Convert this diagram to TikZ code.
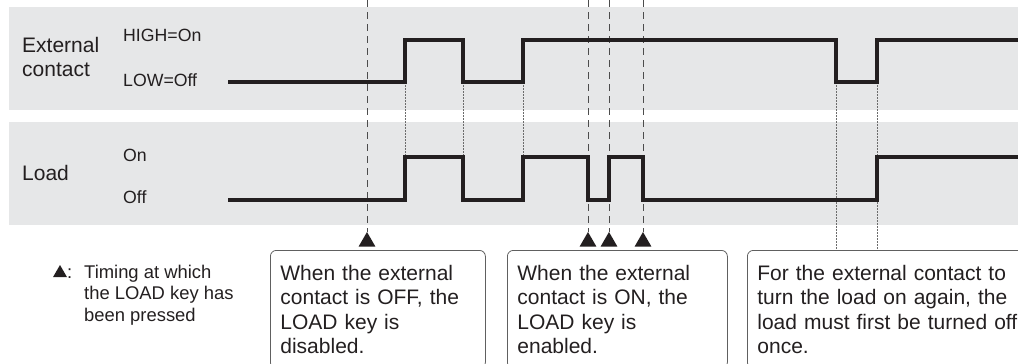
\documentclass[tikz,border=0pt]{standalone}
\usepackage{fontspec}
\setmainfont{Liberation Sans}
\usetikzlibrary{positioning, shapes.geometric}
\definecolor{bandgray}{HTML}{E6E7E8}
\definecolor{sigblack}{HTML}{231F20}

\begin{document}
\begin{tikzpicture}[
  x=1pt, y=-1pt,
  band/.style={fill=bandgray, draw=none},
  sig/.style={draw=sigblack, line width=4pt, line join=miter},
  keyline/.style={draw=gray!60!black, line width=0.8pt, dash pattern=on 7pt off 5pt},
  edgeline/.style={draw=gray!85!black, line width=1pt, dash pattern=on 1.5pt off 1.5pt},
  keymark/.style={regular polygon, regular polygon sides=3, fill=sigblack, inner sep=0pt,
    minimum size=19.6pt},
  rowlbl/.style={anchor=base west, inner sep=0pt, text=sigblack, font=\fontsize{21}{24.5}\selectfont},
  lvllbl/.style={anchor=base west, inner sep=0pt, text=sigblack, font=\fontsize{17.7}{21}\selectfont},
  notebox/.style={draw=gray!75!black, line width=0.8pt, rounded corners=6pt, anchor=north west,
    align=left, inner xsep=10pt, inner ysep=14.5pt, text=sigblack, font=\fontsize{21}{24.5}\selectfont}
]
\useasboundingbox (0,0) rectangle (1018,364);
\clip (0,0) rectangle (1018,364);

% --- Bands ---
\fill[band] (9,7) rectangle (1018,110);
\fill[band] (9,122) rectangle (1018,225);

% --- Row and level labels ---
\node[rowlbl] (ext1) at (22,52) {External};
\node[rowlbl] (ext2) at (22,76.5) {contact};
\node[rowlbl] (load) at (22,180.5) {Load};
\node[lvllbl] (high) at (123,41.5) {HIGH=On};
\node[lvllbl] (low) at (123,86.5) {LOW=Off};
\node[lvllbl] (lon) at (123,161.5) {On};
\node[lvllbl] (loff) at (123,203.5) {Off};

% --- Explanation boxes ---
\node[notebox, text width=195pt] (b1) at (270,250)
  {When the external\\contact is OFF, the\\LOAD key is\\disabled.};
\node[notebox, text width=200pt] (b2) at (507,250)
  {When the external\\contact is ON, the\\LOAD key is\\enabled.};
\node[notebox, text width=290pt] (b3) at (747,250)
  {For the external contact to\\turn the load on again, the\\load must first be turned off\\once.};

% --- LOAD key presses ---
\foreach \n/\x in {1/367, 2/588, 3/609, 4/643} {
  \coordinate (t\n) at (\x,0);
  \node[keymark] (k\n) at (\x,241.8) {};
  \draw[keyline] (t\n) -- (k\n.north);
}

% --- Edges carried over from the contact to the load ---
\foreach \n/\x in {1/405, 2/463, 3/523} {
  \coordinate (e\n) at (\x,82);
  \coordinate (l\n) at (\x,157);
  \draw[edgeline] (e\n) -- (l\n);
}
\coordinate (e4) at (836,82);
\coordinate (e5) at (877,82);
\draw[edgeline] (e4) -- (e4 |- b3.north);
\draw[edgeline] (e5) -- (e5 |- b3.north);

% --- Waveforms ---
\draw[sig] (228,82) -- (405,82) -- (405,40) -- (463,40) -- (463,82) -- (523,82) -- (523,40)
  -- (836,40) -- (836,82) -- (877,82) -- (877,40) -- (1020,40);
\draw[sig] (228,200) -- (405,200) -- (405,157) -- (463,157) -- (463,200) -- (523,200)
  -- (523,157) -- (588,157) -- (588,200) -- (609,200) -- (609,157) -- (643,157) -- (643,200)
  -- (877,200) -- (877,157) -- (1020,157);

% --- Legend ---
\node[keymark, minimum size=16pt] (lgmark) at (60,273) {};
\node[lvllbl, font=\fontsize{18.4}{21.5}\selectfont] (lgcolon) at (67,278) {:};
\node[anchor=north west, inner sep=0pt, align=left, text=sigblack,
  font=\fontsize{18.4}{21.5}\selectfont] (legend) at (84,264.7)
  {Timing at which\\the LOAD key has\\been pressed};
\end{tikzpicture}
\end{document}
